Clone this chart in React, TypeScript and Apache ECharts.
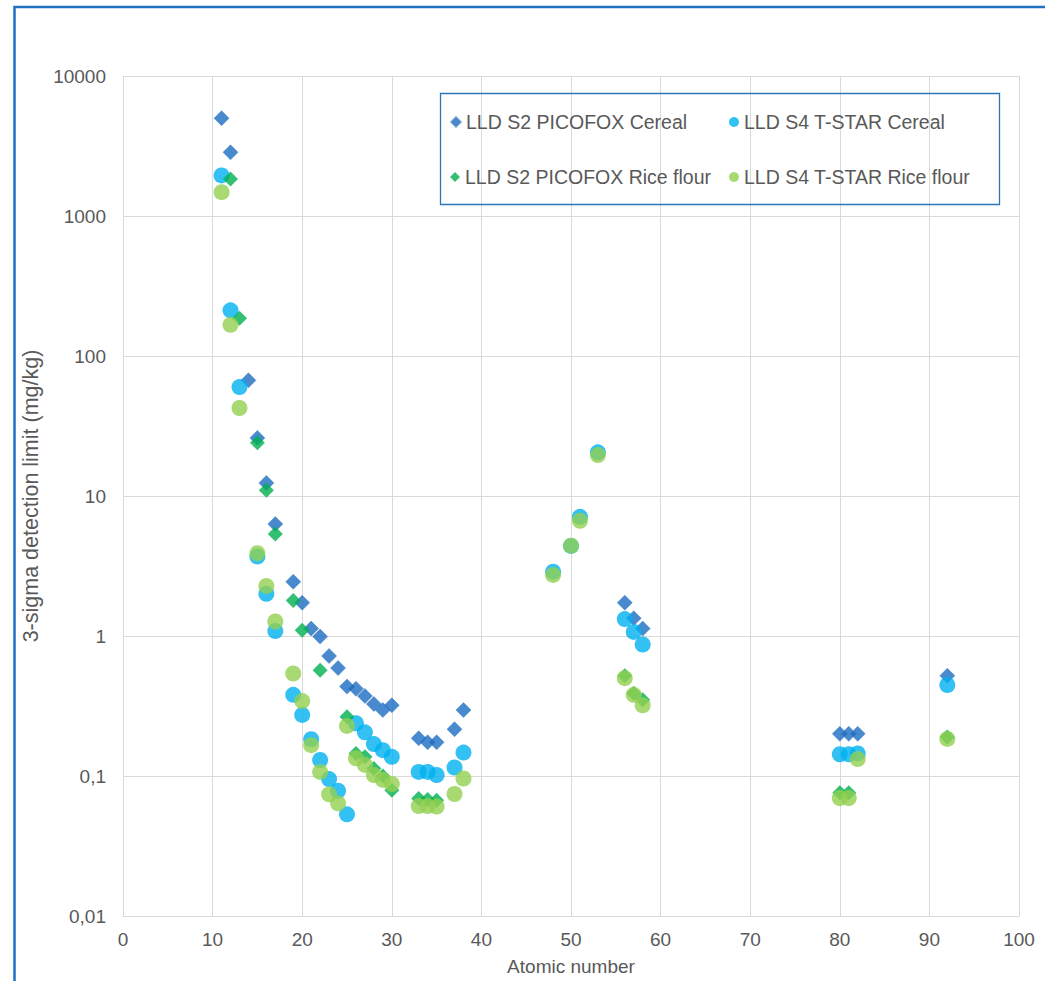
import React, { useEffect, useRef } from "react";
import * as echarts from "echarts";

// ---- Data ----
const s2CerealZ = [11, 12, 14, 15, 16, 17, 19, 20, 21, 22, 23, 24, 25, 26, 27, 28, 29, 30, 33, 34, 35, 37, 38, 56, 57, 58, 80, 81, 82, 92];
const s2CerealV = [5000, 2850, 67, 26, 12.4, 6.3, 2.44, 1.73, 1.13, 0.99, 0.72, 0.59, 0.435, 0.42, 0.373, 0.327, 0.296, 0.32, 0.186, 0.174, 0.174, 0.216, 0.296, 1.73, 1.34, 1.13, 0.2, 0.2, 0.2, 0.52];

const s4CerealZ = [11, 12, 13, 15, 16, 17, 19, 20, 21, 22, 23, 24, 25, 26, 27, 28, 29, 30, 33, 34, 35, 37, 38, 48, 50, 51, 53, 56, 57, 58, 80, 81, 82, 92];
const s4CerealV = [1950, 212, 60, 3.7, 2.0, 1.085, 0.38, 0.273, 0.183, 0.13, 0.095, 0.0785, 0.0532, 0.238, 0.205, 0.169, 0.153, 0.137, 0.107, 0.107, 0.1016, 0.115, 0.147, 2.88, 4.4, 7.1, 20.5, 1.32, 1.07, 0.87, 0.143, 0.143, 0.145, 0.447];

const s2RiceZ = [12, 13, 15, 16, 17, 19, 20, 22, 25, 26, 27, 28, 29, 30, 33, 34, 35, 56, 57, 58, 80, 81, 92];
const s2RiceV = [1840, 186, 24, 11.0, 5.35, 1.79, 1.1, 0.57, 0.265, 0.145, 0.137, 0.113, 0.1, 0.079, 0.069, 0.068, 0.067, 0.52, 0.39, 0.35, 0.076, 0.076, 0.19];

const s4RiceZ = [11, 12, 13, 15, 16, 17, 19, 20, 21, 22, 23, 24, 25, 26, 27, 28, 29, 30, 33, 34, 35, 37, 38, 48, 50, 51, 53, 56, 57, 58, 80, 81, 82, 92];
const s4RiceV = [1480, 167, 42.5, 3.9, 2.28, 1.27, 0.54, 0.343, 0.166, 0.107, 0.074, 0.0638, 0.228, 0.134, 0.12, 0.1016, 0.094, 0.0877, 0.061, 0.061, 0.0605, 0.0744, 0.096, 2.73, 4.42, 6.66, 19.6, 0.5, 0.38, 0.32, 0.0697, 0.0697, 0.132, 0.184];

const seriesNames = [
  "LLD S2 PICOFOX Cereal",
  "LLD S4 T-STAR Cereal",
  "LLD S2 PICOFOX Rice flour",
  "LLD S4 T-STAR Rice flour",
];

const xTitle = "Atomic number";
const yTitle = "3-sigma detection limit (mg/kg)";

const FONT = "'Liberation Sans', Arial, sans-serif";
const TXT = "#595959";
const GRID = "#D9D9D9";

const pairs = (xs: number[], vs: number[]) => xs.map((x, i) => [x, vs[i]]);

export default function App() {
  const ref = useRef<HTMLDivElement>(null);

  useEffect(() => {
    if (!ref.current) return;
    const chart = echarts.init(ref.current, undefined, { renderer: "svg" });

    const legendItem = (name: string, icon: string, left: number, top: number) => ({
      show: true,
      data: [{ name, icon }],
      left,
      top,
      padding: 0,
      itemWidth: 10,
      itemHeight: 10,
      itemGap: 5,
      selectedMode: false,
      textStyle: { fontSize: 19.5, color: TXT, fontFamily: FONT },
    });

    const option: any = {
      animation: false,
      backgroundColor: "#ffffff",
      grid: { left: 123, right: 26, top: 76, bottom: 65 },
      xAxis: {
        type: "value",
        min: 0,
        max: 100,
        interval: 10,
        name: xTitle,
        nameLocation: "middle",
        nameGap: 41,
        nameTextStyle: { fontSize: 19, color: TXT, fontFamily: FONT },
        axisLine: { show: true, lineStyle: { color: GRID, width: 1 } },
        axisTick: { show: false },
        axisLabel: { fontSize: 19, color: TXT, fontFamily: FONT, margin: 14 },
        splitLine: { show: true, lineStyle: { color: GRID, width: 1 } },
      },
      yAxis: {
        type: "log",
        logBase: 10,
        min: 0.01,
        max: 10000,
        splitNumber: 6,
        name: yTitle,
        nameLocation: "middle",
        nameGap: 74,
        nameTextStyle: { fontSize: 21.5, color: TXT, fontFamily: FONT },
        axisLine: { show: false },
        axisTick: { show: false },
        axisLabel: {
          fontSize: 19,
          color: TXT,
          fontFamily: FONT,
          margin: 17,
          formatter: (v: number) => {
            const n = Number(v.toPrecision(2));
            return String(n).replace(".", ",");
          },
        },
        splitLine: { show: true, lineStyle: { color: GRID, width: 1 } },
      },
      legend: [
        legendItem(seriesNames[0], "diamond", 450, 112),
        legendItem(seriesNames[1], "circle", 729, 112),
        legendItem(seriesNames[2], "diamond", 450, 167),
        legendItem(seriesNames[3], "circle", 729, 167),
      ],
      graphic: [
        {
          type: "rect",
          shape: { x: 440.5, y: 93.5, width: 559, height: 111 },
          style: { fill: "none", stroke: "#2E75B6", lineWidth: 1.3 },
          z: 1,
        },
        {
          type: "polyline",
          shape: { points: [[14.5, 981], [14.5, 7], [1045, 7]] },
          style: { fill: "none", stroke: "#1F72C0", lineWidth: 2.5 },
          z: 1,
        },
      ],
      series: [
        {
          name: seriesNames[0],
          type: "scatter",
          symbol: "diamond",
          symbolSize: 15,
          itemStyle: { color: "#1C6CC0", borderColor: "rgba(60,130,200,0.6)", borderWidth: 1 },
          data: pairs(s2CerealZ, s2CerealV),
        },
        {
          name: seriesNames[1],
          type: "scatter",
          symbol: "circle",
          symbolSize: 16,
          itemStyle: { color: "#00B0F0" },
          data: pairs(s4CerealZ, s4CerealV),
        },
        {
          name: seriesNames[2],
          type: "scatter",
          symbol: "diamond",
          symbolSize: 15,
          itemStyle: { color: "#00B050" },
          data: pairs(s2RiceZ, s2RiceV),
        },
        {
          name: seriesNames[3],
          type: "scatter",
          symbol: "circle",
          symbolSize: 16,
          itemStyle: { color: "#92D050" },
          data: pairs(s4RiceZ, s4RiceV),
        },
      ],
    };

    chart.setOption(option);
    return () => chart.dispose();
  }, []);

  return (
    <div
      ref={ref}
      style={{ position: "absolute", left: 0, top: 0, width: 1045, height: 981, background: "#fff" }}
    />
  );
}
